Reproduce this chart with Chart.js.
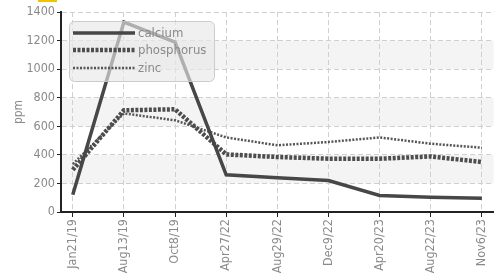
<!DOCTYPE html>
<html>
<head>
<meta charset="utf-8">
<script src="https://cdn.jsdelivr.net/npm/chart.js@4"></script>
<style>
  html, body { margin: 0; padding: 0; background: #fff; }
  #wrap { width: 499px; height: 273px; position: relative; }
</style>
</head>
<body>
<div id="wrap"><canvas id="myChart"></canvas></div>
<script>
// fechas del eje x
const fechas = ['Jan21/19', 'Aug13/19', 'Oct8/19', 'Apr27/22', 'Aug29/22', 'Dec9/22', 'Apr20/23', 'Aug22/23', 'Nov6/23'];

// valores en ppm
const calcium = [120, 1330, 1190, 260, 240, 220, 116, 104, 97];
const phosphorus = [295, 712, 719, 403, 385, 373, 373, 389, 350];
const zinc = [335, 690, 642, 522, 467, 490, 522, 478, 450];

const yTicks = [0, 200, 400, 600, 800, 1000, 1200, 1400];

const fuente = "'DejaVu Sans Condensed', 'Liberation Sans Narrow', sans-serif";
const gris = '#8a8a8a';

function puntos(valores) {
  return valores.map((v, i) => ({ x: i, y: v }));
}

// bandas grises de fondo
const bandas = {
  id: 'bandas',
  beforeDraw(chart) {
    const { ctx, chartArea, scales } = chart;
    const y = scales.y;
    ctx.save();
    ctx.fillStyle = '#f4f4f4';
    [[200, 400], [600, 800], [1000, 1200]].forEach(([a, b]) => {
      const y1 = y.getPixelForValue(b);
      const y2 = y.getPixelForValue(a);
      ctx.fillRect(chartArea.left, y1, chartArea.right - chartArea.left, y2 - y1);
    });
    // marca amarilla arriba
    ctx.fillStyle = '#f2c200';
    ctx.fillRect(38, 0, 19, 2);
    ctx.restore();
  }
};

// leyenda dibujada encima de las líneas
const leyenda = {
  id: 'leyenda',
  afterDatasetsDraw(chart) {
    const { ctx } = chart;
    ctx.save();
    ctx.beginPath();
    ctx.roundRect(69.5, 21.5, 145, 60, 5);
    ctx.fillStyle = 'rgba(232,232,232,0.65)';
    ctx.fill();
    ctx.strokeStyle = 'rgba(200,200,200,0.9)';
    ctx.lineWidth = 1;
    ctx.stroke();
    const filas = [33, 50, 68];
    chart.data.datasets.forEach((ds, i) => {
      ctx.beginPath();
      ctx.setLineDash(ds.borderDash || []);
      ctx.lineWidth = ds.borderWidth;
      ctx.strokeStyle = ds.borderColor;
      ctx.moveTo(73, filas[i]);
      ctx.lineTo(135, filas[i]);
      ctx.stroke();
      ctx.setLineDash([]);
      ctx.fillStyle = gris;
      ctx.font = '13px ' + fuente;
      ctx.textBaseline = 'middle';
      ctx.fillText(ds.label, 138, filas[i] + 1);
    });
    ctx.restore();
  }
};

const ctx = document.getElementById('myChart').getContext('2d');
const myChart = new Chart(ctx, {
  type: 'line',
  data: {
    datasets: [{
      label: 'calcium',
      data: puntos(calcium),
      borderColor: '#474747',
      borderWidth: 3.5,
      pointRadius: 0,
      tension: 0
    }, {
      label: 'phosphorus',
      data: puntos(phosphorus),
      borderColor: '#4d4d4d',
      borderWidth: 4.5,
      borderDash: [3, 1.5],
      pointRadius: 0,
      tension: 0
    }, {
      label: 'zinc',
      data: puntos(zinc),
      borderColor: '#555555',
      borderWidth: 2.5,
      borderDash: [2, 1.5],
      pointRadius: 0,
      tension: 0
    }]
  },
  options: {
    responsive: true,
    maintainAspectRatio: false,
    animation: false,
    layout: { padding: { top: 12, right: 4, left: 0, bottom: 0 } },
    plugins: {
      legend: { display: false },
      tooltip: { enabled: false }
    },
    scales: {
      x: {
        type: 'linear',
        min: -0.23,
        max: 8.23,
        afterBuildTicks(scale) {
          scale.ticks = fechas.map((f, i) => ({ value: i }));
        },
        afterFit(scale) { scale.height = 61; },
        ticks: {
          autoSkip: false,
          maxRotation: 90,
          minRotation: 90,
          padding: 2,
          color: gris,
          font: { family: fuente, size: 12.5 },
          callback: (v) => fechas[v]
        },
        grid: {
          color: '#d0d0d0',
          tickColor: '#222',
          tickLength: 5,
          lineWidth: 1
        },
        border: { color: '#222', width: 2, dash: [5, 3] }
      },
      y: {
        min: 0,
        max: 1400,
        afterBuildTicks(scale) {
          scale.ticks = yTicks.map(v => ({ value: v }));
        },
        afterFit(scale) { scale.width = 61; },
        title: {
          display: true,
          text: 'ppm',
          color: gris,
          font: { family: fuente, size: 12 },
          padding: { top: 12, bottom: 0 }
        },
        ticks: {
          padding: 2,
          color: gris,
          font: { family: fuente, size: 12.5 },
          callback: (v) => String(v)
        },
        grid: {
          color: '#d0d0d0',
          tickColor: '#222',
          tickLength: 4,
          lineWidth: 1
        },
        border: { color: '#222', width: 2, dash: [5, 3] }
      }
    }
  },
  plugins: [bandas, leyenda]
});
</script>
</body>
</html>
